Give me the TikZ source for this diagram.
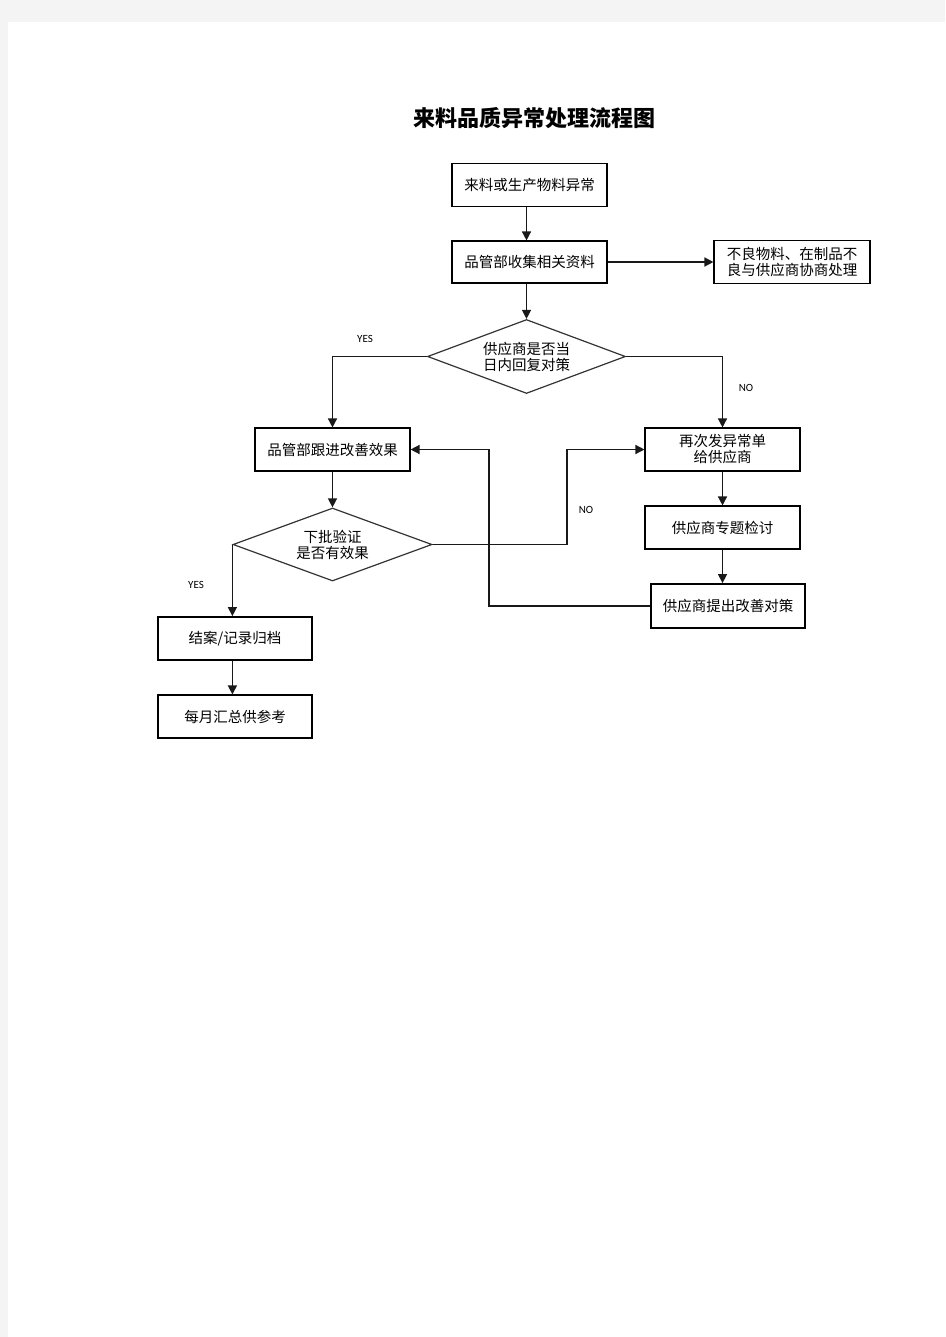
\documentclass[tikz,border=0pt]{standalone}
\usepackage{fontspec}
\setmainfont{Liberation Sans}
\newfontfamily\cjk{Noto Sans CJK SC}
\newfontfamily\lbl{Carlito}
\usetikzlibrary{arrows.meta,shapes.geometric,calc}
\definecolor{pagegray}{HTML}{F4F4F4}
\begin{document}
\begin{tikzpicture}[x=1pt,y=-1pt,
  box/.style={draw=black,line width=1.1pt,minimum width=155pt,minimum height=43pt,inner sep=0pt,align=center,font=\cjk\fontsize{14.5}{16}\selectfont},
  thickbox/.style={box,line width=1.8pt},
  dia/.style={draw=black!80,line width=1.2pt,diamond,inner sep=0pt,minimum width=198pt,minimum height=74pt,aspect=2.66,align=center,font=\cjk\fontsize{14.5}{16}\selectfont},
  arr/.style={draw=black!90,line width=1.4pt,-{Triangle[length=9pt,width=9pt]}},
  yn/.style={font=\lbl\fontsize{11}{12}\selectfont,inner sep=0pt}]
\useasboundingbox (0,0) rectangle (945,1337);
\fill[pagegray] (0,0) rectangle (945,1337);
\fill[white] (8,22) rectangle (945,1337);

\node[font=\cjk\bfseries\fontsize{22}{24}\selectfont] (title) at (534,118) {来料品质异常处理流程图};

\node[thickbox] (b1) at (529.5,185) {来料或生产物料异常};
\node[box,minimum height=42pt] (b2) at (529.5,262) {品管部收集相关资料};
\node[box,minimum width=156pt] (b3) at (792,262) {不良物料、在制品不\\良与供应商协商处理};
\node[dia] (d1) at (526.5,356.5) {供应商是否当\\日内回复对策};
\node[box] (b4) at (332.5,449.5) {品管部跟进改善效果};
\node[box] (b5) at (722.5,449.5) {再次发异常单\\给供应商};
\node[dia,minimum width=199pt,minimum height=73pt] (d2) at (332.5,544.5) {下批验证\\是否有效果};
\node[box] (b6) at (722.5,527.5) {供应商专题检讨};
\node[thickbox,minimum width=154pt,minimum height=44pt] (b7) at (728,606) {供应商提出改善对策};
\node[thickbox,minimum width=154pt] (b8) at (235,638.5) {结案/记录归档};
\node[box,minimum width=154pt] (b9) at (235,716.5) {每月汇总供参考};

\coordinate (c1) at (567,544.5);
\coordinate (c2) at (489,606);

\draw[arr] (b1.south -| d1.north) -- (b2.north -| d1.north);
\draw[arr] (b2.south -| d1.north) -- (d1.north);
\draw[arr] (b2.east) -- (b2.east -| b3.west);
\draw[arr] (d1.west) -- (d1.west -| b4.north) -- (b4.north);
\draw[arr] (d1.east) -- (d1.east -| b5.north) -- (b5.north);
\draw[arr] (b4.south) -- (d2.north);
\draw[arr] (d2.east) -- (c1) |- (b5.west);
\draw[arr] (b5.south) -- (b6.north);
\draw[arr] (b6.south) -- (b6.south |- b7.north);
\draw[arr] (b7.west) -- (c2) |- (b4.east);
\draw[arr] (d2.west) -- (d2.west |- b8.north);
\draw[arr] (b8.south -| d2.west) -- (b9.north -| d2.west);

\node[yn] (y1) at (365,338.5) {YES};
\node[yn] (n1) at (746,387.5) {NO};
\node[yn] (n2) at (586,509.5) {NO};
\node[yn] (y2) at (196,584.5) {YES};
\end{tikzpicture}
\end{document}
